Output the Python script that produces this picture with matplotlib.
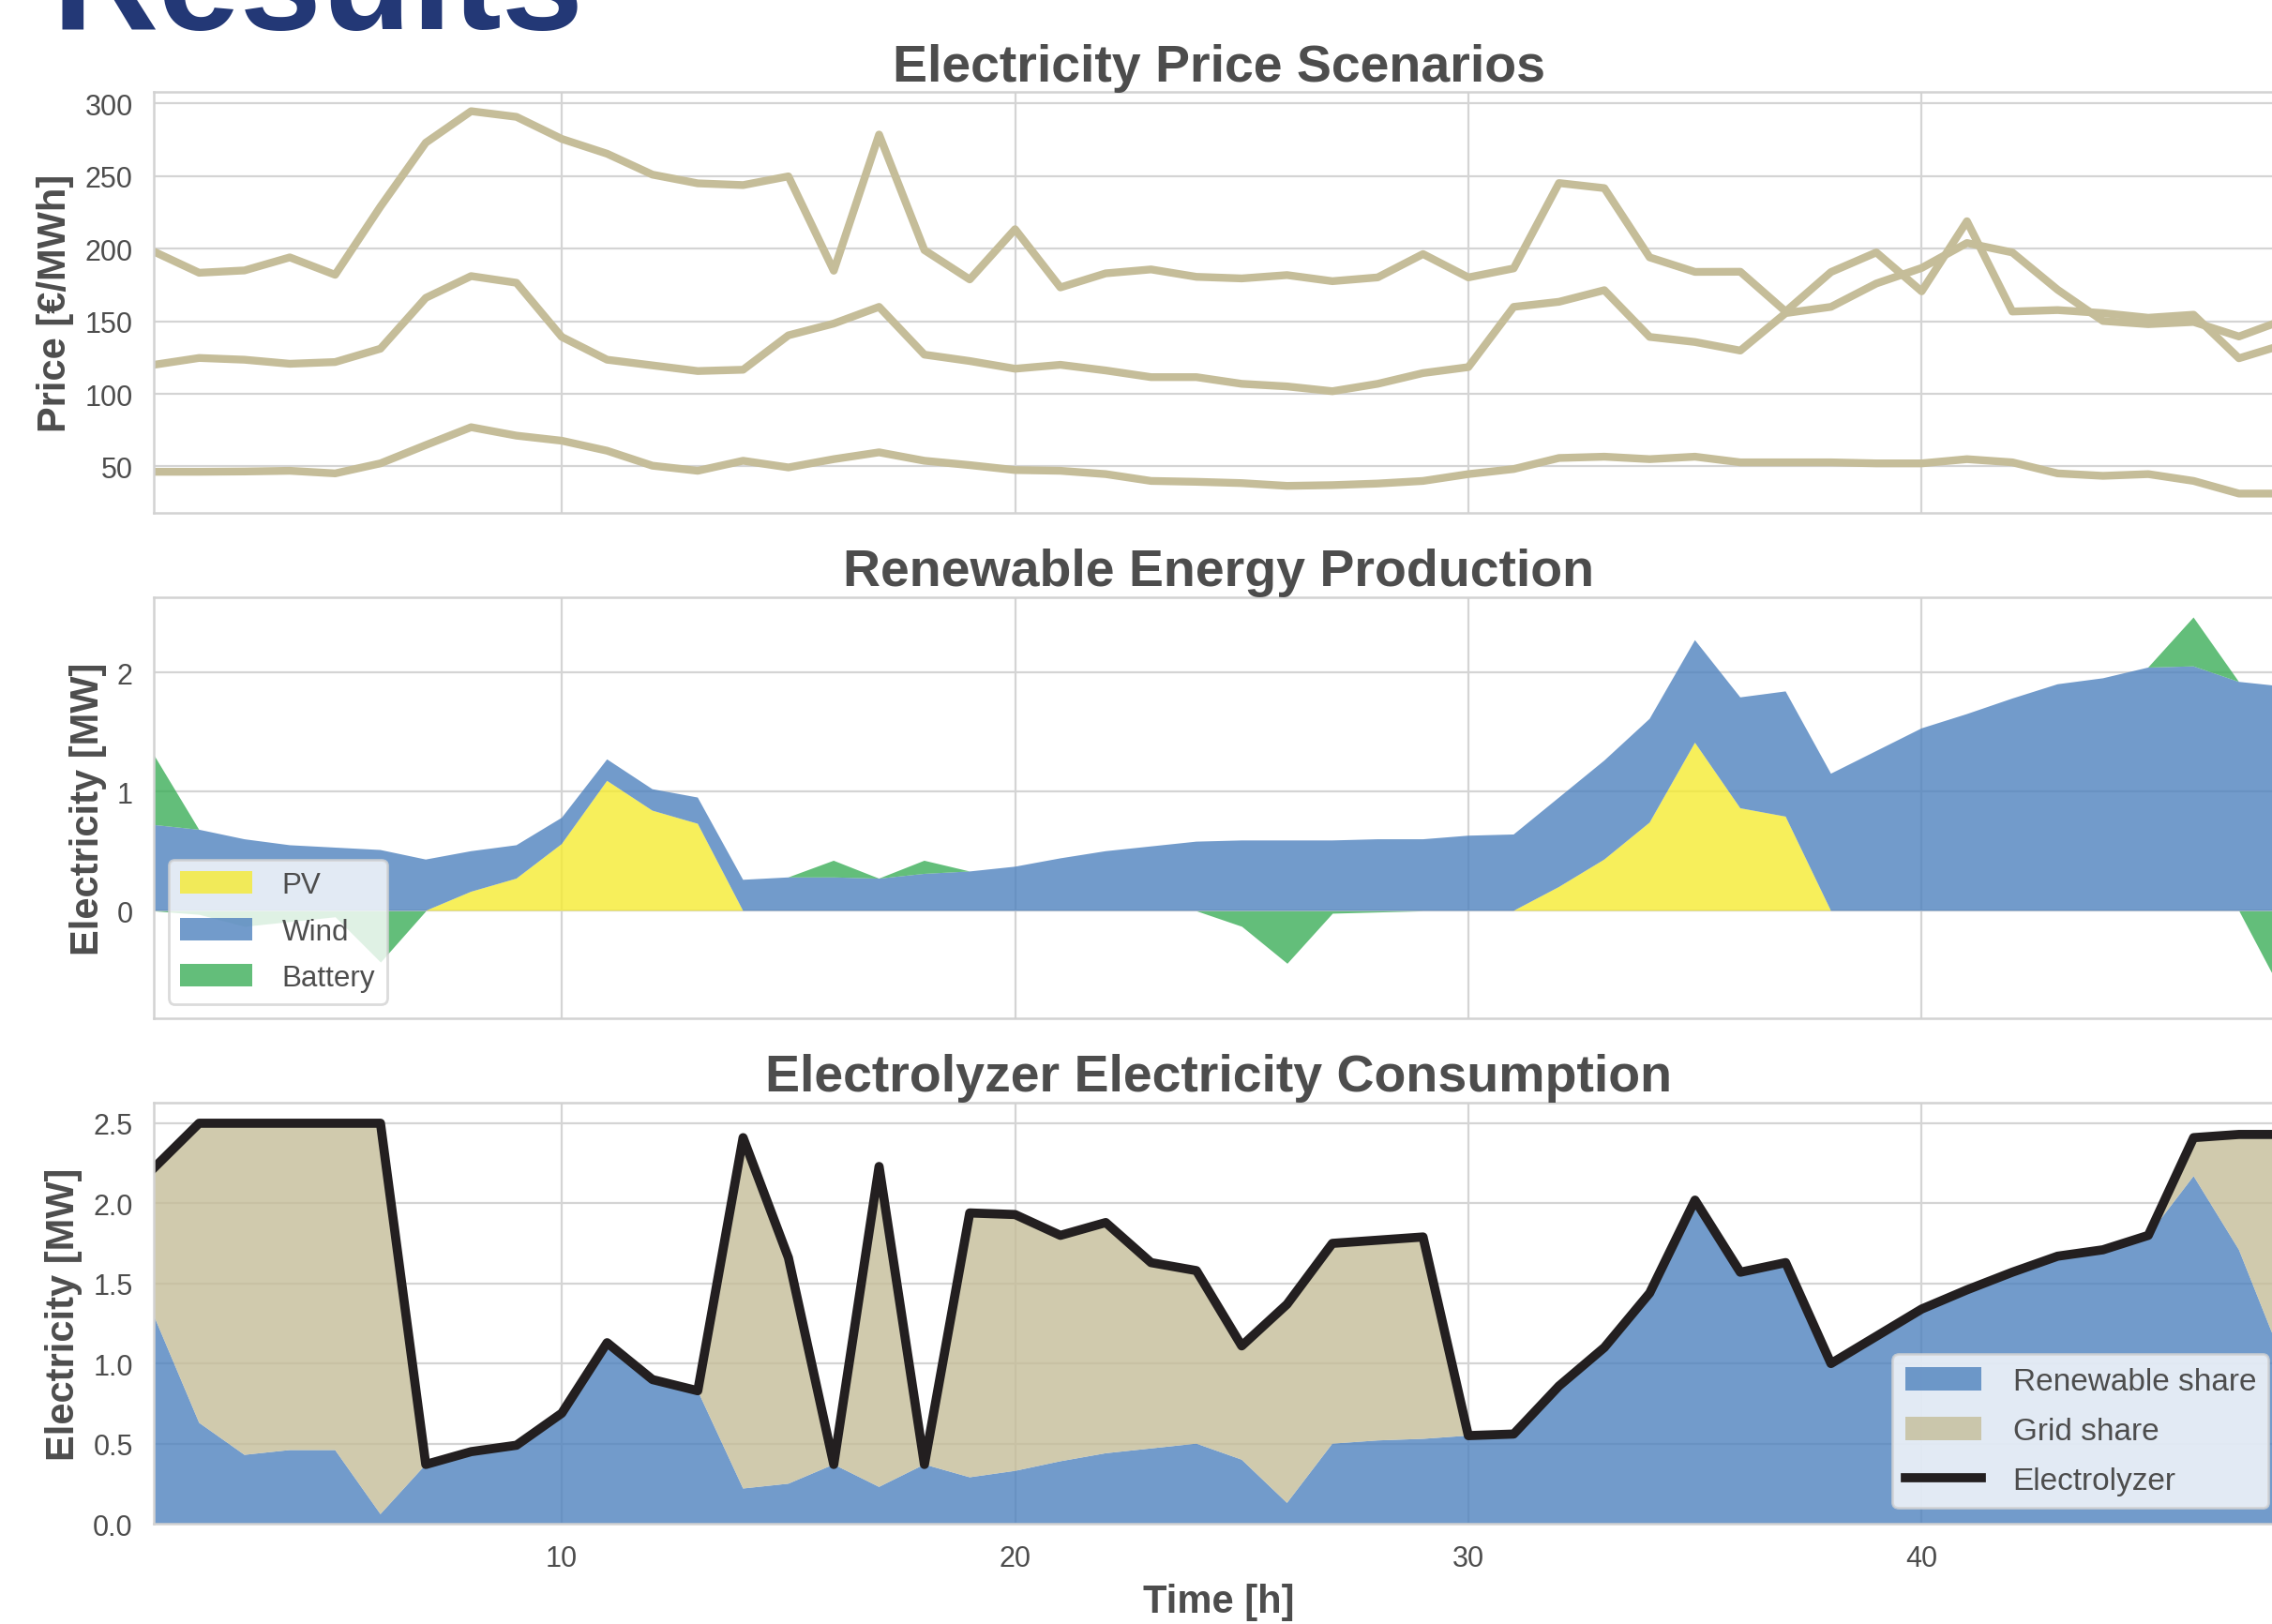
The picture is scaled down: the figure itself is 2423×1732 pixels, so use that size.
import numpy as np
import matplotlib.pyplot as plt

hours = np.arange(1, 49)

# electricity price scenarios [€/MWh]
price_high = [198, 183.4, 185, 194, 182, 229, 273, 294.7, 290.8, 275.6, 265.4, 251,
              245, 243.8, 249.8, 184.8, 278.6, 199, 178.8, 213.4, 173.3, 183, 185.7, 180.6,
              179.5, 181.8, 177.6, 180.2, 196.3, 180.2, 186.4, 245.2, 241.7, 194, 184, 184.1,
              156.7, 183.9, 197.4, 170.6, 218.9, 156.7, 157.7, 155.6, 152.4, 154.5, 124.5, 134]
price_mid = [120, 124.7, 123.5, 120.7, 121.9, 131.1, 166.1, 181.1, 176.5, 139.2, 123.5, 119.6,
             115.7, 116.6, 140.3, 148.4, 159.9, 127, 122.6, 117.3, 120, 116.1, 111.5, 111.5,
             106.9, 105.1, 101.8, 106.9, 114.3, 118.4, 159.9, 163.4, 171.4, 139.2, 135.7, 129.8,
             155.6, 159.9, 176, 186.7, 203.9, 197.4, 171.7, 150.2, 148, 149.5, 139.5, 151]
price_low = [46.3, 46.3, 46.5, 47, 45.2, 52.1, 64.7, 77, 71.2, 67.7, 60.8, 50.5,
             47, 53.9, 49.3, 55, 59.7, 53.9, 50.9, 47.5, 47, 44.7, 40, 39.4,
             38.5, 36.6, 37.1, 38.2, 40, 44.7, 48.2, 55.8, 56.7, 55, 56.7, 52.8,
             52.8, 52.8, 52.1, 52.1, 55, 52.8, 45.2, 43.5, 44.7, 40, 31.3, 31.3]

# renewable production [MW]
pv = [0, 0, 0, 0, 0, 0, 0, 0.16, 0.27, 0.56, 1.09, 0.84,
      0.73, 0, 0, 0, 0, 0, 0, 0, 0, 0, 0, 0,
      0, 0, 0, 0, 0, 0, 0, 0.2, 0.43, 0.74, 1.41, 0.86,
      0.79, 0, 0, 0, 0, 0, 0, 0, 0, 0, 0, 0]
wind = [0.72, 0.68, 0.6, 0.55, 0.53, 0.51, 0.43, 0.34, 0.28, 0.22, 0.18, 0.18,
        0.22, 0.26, 0.28, 0.28, 0.27, 0.31, 0.33, 0.37, 0.44, 0.5, 0.54, 0.58,
        0.59, 0.59, 0.59, 0.6, 0.6, 0.63, 0.64, 0.75, 0.83, 0.87, 0.86, 0.93,
        1.05, 1.15, 1.34, 1.53, 1.65, 1.78, 1.9, 1.95, 2.04, 2.05, 1.92, 1.88]
battery = [0.59, -0.03, -0.13, -0.09, -0.05, -0.43, 0, 0, 0, 0, 0, 0,
           0, 0, 0, 0.14, 0, 0.11, 0, 0, 0, 0, 0, 0,
           -0.13, -0.44, -0.02, -0.01, 0, 0, 0, 0, 0, 0, 0, 0,
           0, 0, 0, 0, 0, 0, 0, 0, 0, 0.41, 0, -0.72]

# electrolyzer consumption [MW]
electrolyzer = [2.22, 2.5, 2.5, 2.5, 2.5, 2.5, 0.37, 0.45, 0.49, 0.69, 1.13, 0.9,
                0.83, 2.41, 1.66, 0.37, 2.23, 0.37, 1.94, 1.93, 1.8, 1.88, 1.63, 1.58,
                1.11, 1.37, 1.75, 1.77, 1.79, 0.55, 0.56, 0.86, 1.1, 1.44, 2.02, 1.57,
                1.63, 1.0, 1.17, 1.34, 1.46, 1.57, 1.67, 1.71, 1.8, 2.41, 2.43, 2.43]
renewable_share = [1.3, 0.63, 0.43, 0.46, 0.46, 0.06, 0.37, 0.45, 0.49, 0.69, 1.13, 0.9,
                   0.83, 0.22, 0.25, 0.37, 0.23, 0.37, 0.29, 0.33, 0.39, 0.44, 0.47, 0.5,
                   0.4, 0.13, 0.5, 0.52, 0.53, 0.55, 0.56, 0.86, 1.1, 1.44, 2.02, 1.57,
                   1.63, 1.0, 1.17, 1.34, 1.46, 1.57, 1.67, 1.71, 1.8, 2.17, 1.71, 1.0]

text_grey = '#4d4d4d'
plt.rcParams['font.family'] = ['Liberation Sans', 'DejaVu Sans']
plt.rcParams['text.color'] = text_grey
plt.rcParams['axes.labelcolor'] = text_grey
plt.rcParams['xtick.color'] = text_grey
plt.rcParams['ytick.color'] = text_grey
plt.rcParams['axes.edgecolor'] = '#d2d2d2'
plt.rcParams['axes.linewidth'] = 0.9
plt.rcParams['grid.color'] = '#d4d4d4'
plt.rcParams['grid.linewidth'] = 0.8
plt.rcParams['xtick.labelsize'] = 11
plt.rcParams['ytick.labelsize'] = 11
plt.rcParams['xtick.major.size'] = 0
plt.rcParams['ytick.major.size'] = 0
plt.rcParams['xtick.major.pad'] = 8
plt.rcParams['ytick.major.pad'] = 8

c_price = '#c5bd99'
c_pv = '#f5eb32'
c_wind = '#4f82be'
c_bat = '#3cae59'
c_elec = '#231f20'

fig = plt.figure(figsize=(12.115, 8.665), dpi=200)
left, width = 0.0677, 0.9377
ax1 = fig.add_axes([left, 0.6838, width, 0.2589])
ax2 = fig.add_axes([left, 0.3725, width, 0.2594], sharex=ax1)
ax3 = fig.add_axes([left, 0.0617, width, 0.2593], sharex=ax1)

fig.text(0.0227, 1 - 31.4 / 1733, 'Results', fontsize=56.5, fontweight='bold',
         color='#233876', ha='left', va='baseline')

title_kw = dict(fontsize=20, fontweight='bold', pad=4.5, color=text_grey)
label_kw = dict(fontsize=15, fontweight='bold')
legend_kw = dict(handlelength=2.45, handleheight=0.8, handletextpad=1.0,
                 framealpha=0.8, edgecolor='#d2d2d2')

# price scenarios
for p in (price_high, price_mid, price_low):
    ax1.plot(hours, p, color=c_price, lw=3.0)
ax1.set_title('Electricity Price Scenarios', **title_kw)
ax1.set_ylabel('Price [€/MWh]', **label_kw)
ax1.set_yticks([50, 100, 150, 200, 250, 300])
ax1.set_ylim(18, 307.8)

# renewable production, battery discharge stacked on top, charging below zero
bat = np.array(battery)
bat_pos = np.maximum(bat, 0)
bat_neg = np.minimum(bat, 0)
ax2.stackplot(hours, pv, wind, bat_pos, colors=[c_pv, c_wind, c_bat], alpha=0.8,
              labels=['PV', 'Wind', 'Battery'], lw=0)
ax2.fill_between(hours, 0, bat_neg, color=c_bat, alpha=0.8, lw=0)
ax2.set_title('Renewable Energy Production', **title_kw)
ax2.set_ylabel('Electricity [MW]', **label_kw)
ax2.set_yticks([0, 1, 2])
ax2.set_ylim(-0.905, 2.63)
ax2.legend(loc='lower left', fontsize=11.3, labelspacing=0.62, **legend_kw)

# electrolyzer consumption split into renewable and grid share
grid_share = np.array(electrolyzer) - np.array(renewable_share)
ax3.stackplot(hours, renewable_share, grid_share, colors=[c_wind, c_price], alpha=0.8,
              labels=['Renewable share', 'Grid share'], lw=0)
ax3.plot(hours, electrolyzer, color=c_elec, lw=3.5, label='Electrolyzer')
ax3.set_title('Electrolyzer Electricity Consumption', **title_kw)
ax3.set_ylabel('Electricity [MW]', **label_kw)
ax3.set_xlabel('Time [h]', **label_kw)
ax3.set_yticks([0, 0.5, 1.0, 1.5, 2.0, 2.5])
ax3.set_ylim(0, 2.63)
ax3.legend(loc='lower right', fontsize=12, labelspacing=0.65, **legend_kw)

for ax in (ax1, ax2, ax3):
    ax.set_facecolor('white')
    ax.grid(True)
    ax.set_axisbelow(True)
    ax.set_xlim(1, 48)
    ax.set_xticks([10, 20, 30, 40])
for ax in (ax1, ax2):
    ax.tick_params(labelbottom=False)

fig.savefig('out.png', dpi=200)
